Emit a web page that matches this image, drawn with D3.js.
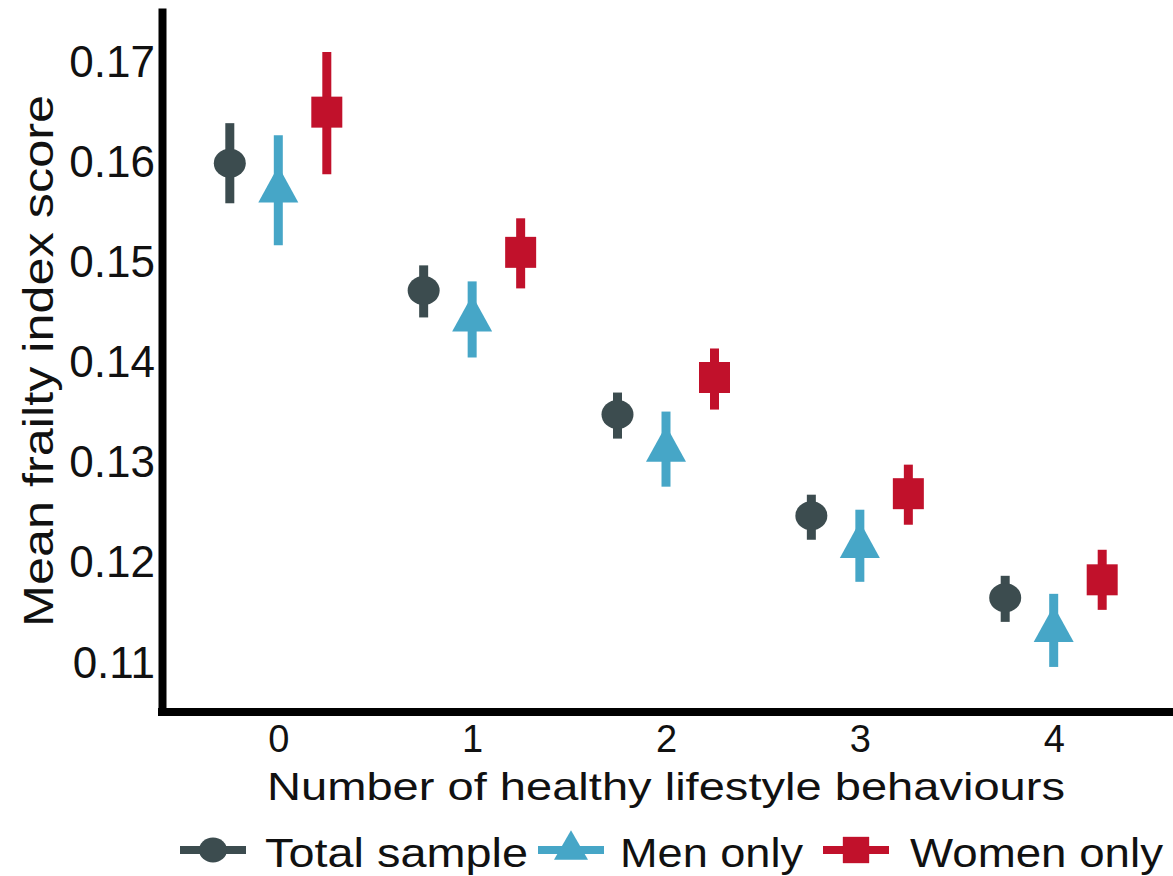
<!DOCTYPE html>
<html>
<head>
<meta charset="utf-8">
<script src="https://cdn.jsdelivr.net/npm/d3@7"></script>
<style>
  body { margin: 0; background: #fff; }
  svg { display: block; font-family: "Liberation Sans", Arial, sans-serif; }
</style>
</head>
<body>
<div id="chart"></div>
<script>
// DATA =======================================
const categories = [0, 1, 2, 3, 4];
const seriesNames = ["Total sample", "Men only", "Women only"];
const yTicks = [0.11, 0.12, 0.13, 0.14, 0.15, 0.16, 0.17];

const totalMean = [0.1599, 0.1472, 0.1348, 0.1247, 0.1165];
const totalLow  = [0.1559, 0.1445, 0.1324, 0.1223, 0.1141];
const totalHigh = [0.1639, 0.1497, 0.1370, 0.1268, 0.1187];

const menMean = [0.1572, 0.1443, 0.1313, 0.1217, 0.1133];
const menLow  = [0.1517, 0.1405, 0.1276, 0.1181, 0.1096];
const menHigh = [0.1627, 0.1481, 0.1351, 0.1253, 0.1169];

const womenMean = [0.1650, 0.1510, 0.1385, 0.1269, 0.1183];
const womenLow  = [0.1588, 0.1474, 0.1353, 0.1238, 0.1153];
const womenHigh = [0.1710, 0.1544, 0.1414, 0.1298, 0.1213];

// CHART ======================================
const width = 1173, height = 876;

const svg = d3.select("#chart")
  .append("svg")
  .attr("width", width)
  .attr("height", height);

const colors = { "Total sample": "#3c4c4f", "Men only": "#46a6c7", "Women only": "#c1112b" };

const rows = [];
[[totalMean, totalLow, totalHigh], [menMean, menLow, menHigh], [womenMean, womenLow, womenHigh]]
  .forEach((s, si) => {
    categories.forEach((c, i) => {
      rows.push({ series: seriesNames[si], cat: c, mean: s[0][i], low: s[1][i], high: s[2][i] });
    });
  });

// SCALES
const x = d3.scalePoint().domain(categories).range([162, 1170]).padding(0.6);
const dodge = d3.scalePoint().domain(seriesNames).range([-48.5, 48.5]);
const y = d3.scaleLinear().domain([0.1051, 0.1754]).range([712, 8]);

// AXES
const yAxis = svg.append("g")
  .attr("transform", "translate(162,0)")
  .call(d3.axisLeft(y).tickValues(yTicks).tickFormat(d3.format(".2f")).tickSize(0).tickSizeOuter(0).tickPadding(7));
yAxis.select(".domain").attr("stroke", "#000").attr("stroke-width", 8);
yAxis.selectAll("text").style("font-size", "44px").attr("fill", "#111");

const xAxis = svg.append("g")
  .attr("transform", "translate(0,712)")
  .call(d3.axisBottom(x).tickSize(0).tickSizeOuter(0).tickPadding(13));
xAxis.select(".domain").attr("stroke", "#000").attr("stroke-width", 8);
xAxis.selectAll("text").style("font-size", "38px").attr("fill", "#111");

// x range ends at 1170, stretch the axis line to the edge
xAxis.select(".domain").attr("d", "M158,0H1173");

// TITLES
svg.append("text")
  .attr("x", 666)
  .attr("y", 800)
  .attr("text-anchor", "middle")
  .attr("textLength", 798)
  .attr("lengthAdjust", "spacingAndGlyphs")
  .style("font-size", "39px")
  .attr("fill", "#111")
  .text("Number of healthy lifestyle behaviours");

svg.append("text")
  .attr("transform", "translate(53,361) rotate(-90)")
  .attr("text-anchor", "middle")
  .attr("textLength", 532)
  .attr("lengthAdjust", "spacingAndGlyphs")
  .style("font-size", "42px")
  .attr("fill", "#111")
  .text("Mean frailty index score");

// MARKS
const symbolFor = {
  "Total sample": null,
  "Men only": d3.symbol(d3.symbolTriangle, 693)(),
  "Women only": d3.symbol(d3.symbolSquare, 961)()
};

const groups = svg.selectAll("g.pt")
  .data(rows)
  .join("g")
  .attr("class", "pt")
  .attr("transform", d => `translate(${x(d.cat) + dodge(d.series)},0)`);

groups.append("line")
  .attr("x1", 0).attr("x2", 0)
  .attr("y1", d => y(d.low))
  .attr("y2", d => y(d.high))
  .attr("stroke", d => colors[d.series])
  .attr("stroke-width", 9);

groups.each(function(d) {
  const g = d3.select(this);
  if (d.series === "Total sample") {
    g.append("ellipse")
      .attr("cx", 0).attr("cy", y(d.mean))
      .attr("rx", 16).attr("ry", 14.5)
      .attr("fill", colors[d.series]);
  } else {
    g.append("path")
      .attr("d", symbolFor[d.series])
      .attr("transform", `translate(0,${y(d.mean)})` + (d.series === "Men only" ? " scale(1,1.05)" : ""))
      .attr("fill", colors[d.series]);
  }
});

// LEGEND
const legendKeyX = [180, 538, 823];
const legendTextX = [265, 620, 910];
const legendTextW = [263, 183, 253];
const legendY = 850;

seriesNames.forEach((s, i) => {
  const lg = svg.append("g").attr("transform", `translate(${legendKeyX[i]},${legendY})`);
  lg.append("line")
    .attr("x1", 0).attr("x2", 66)
    .attr("y1", 0).attr("y2", 0)
    .attr("stroke", colors[s])
    .attr("stroke-width", 8);
  if (s === "Total sample") {
    lg.append("ellipse").attr("cx", 33).attr("cy", 0).attr("rx", 14).attr("ry", 12.5).attr("fill", colors[s]);
  } else {
    lg.append("path")
      .attr("d", symbolFor[s])
      .attr("transform", "translate(33,0) scale(0.85)")
      .attr("fill", colors[s]);
  }
  svg.append("text")
    .attr("x", legendTextX[i])
    .attr("y", 867)
    .attr("textLength", legendTextW[i])
    .attr("lengthAdjust", "spacingAndGlyphs")
    .style("font-size", "40px")
    .attr("fill", "#111")
    .text(s);
});
</script>
</body>
</html>
